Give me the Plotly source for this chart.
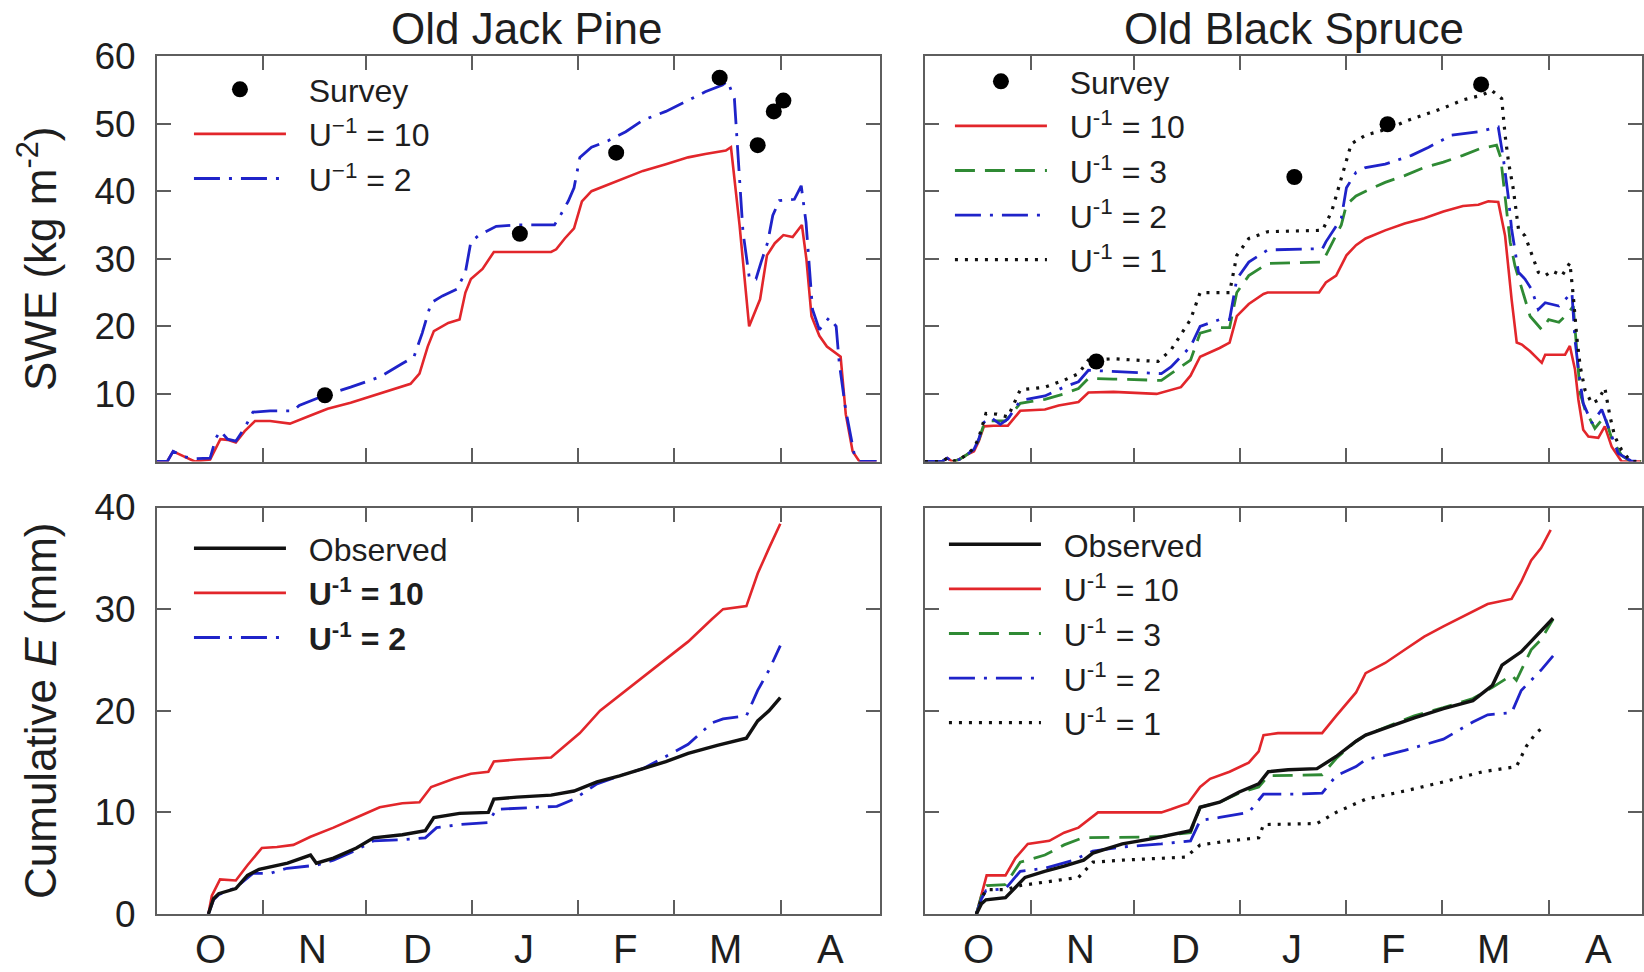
import plotly.graph_objects as go

# ---------------- data (x = days since 1 October) ----------------
# Old Jack Pine, SWE
ojp_swe_u10_day = [0, 3, 4.7, 8, 11, 15.5, 17, 18.5, 20.6, 23, 25.6, 28.6, 33, 38.8, 44.8, 49.8, 56.5, 63.2, 70, 74,
                   76.6, 79, 80.8, 85, 88.3, 90, 91.6, 95, 98.3, 105, 115, 116.5, 119, 121.7, 124, 126.8, 131.8, 136.8,
                   141.8, 148.5, 155, 160, 166, 167.5, 170, 172.8, 174.4, 176, 178, 180.3, 182.8, 185.5, 188.2, 189.5,
                   191, 193.3, 195.5, 198, 199.5, 201, 203, 205, 210]
ojp_swe_u10 = [0, 0, 1.5, 0.7, 0, 0.3, 1.8, 3.3, 3.2, 2.8, 4.5, 6.0, 6.0, 5.6, 6.8, 7.8, 8.7, 9.8, 10.9, 11.5,
               13, 17, 19.3, 20.5, 21, 25, 27, 28.5, 31, 31, 31, 31.4, 33, 34.5, 38.5, 40, 41, 42,
               43, 44, 45, 45.5, 46, 46.5, 35, 20, 22, 24, 30.5, 32.3, 33.5, 33.2, 35, 30,
               21.5, 18.6, 17, 16, 15.5, 7, 1.5, 0, 0]
ojp_swe_u2_day = [0, 3, 4.7, 8, 11, 15.5, 17.2, 18.5, 20.6, 23, 25.6, 28, 33, 39.8, 41.5, 49, 56.5, 65, 71.6, 75,
                  77.4, 80, 83.3, 87.5, 90, 91.6, 94, 99, 105, 116, 117.6, 120, 121.7, 123.4, 126.8, 131.8, 136.8,
                  141.8, 148.5, 155, 160, 165, 166.5, 168.5, 169.5, 171, 172.9, 174.8, 176.3, 178.2, 179.7, 181.6,
                  186, 188, 189.4, 191.3, 193.3, 196.2, 198.2, 199.1, 201, 203.5, 205, 210]
ojp_swe_u2 = [0, 0, 1.5, 0.7, 0.4, 0.5, 3.5, 4.5, 3.3, 3.0, 5, 7.3, 7.5, 7.5, 8.3, 9.8, 11, 12.5, 14.5, 15.5,
              19, 23.5, 24.5, 25.5, 28, 32.5, 33.5, 34.8, 35, 35, 36.3, 38.5, 40.5, 45, 46.5, 47.5, 48.8,
              50.5, 51.8, 53.5, 54.7, 55.7, 56.3, 53.7, 46.3, 34, 27, 27, 29.5, 32.4, 36.4, 38.6,
              38.8, 40.8, 35.4, 22.5, 19.5, 21.3, 20, 14.6, 7.6, 1.0, 0, 0]
ojp_survey_day = [49, 105.9, 134, 164.2, 175.3, 180, 182.8]
ojp_survey = [9.8, 33.7, 45.7, 56.8, 46.8, 51.8, 53.4]

# Old Black Spruce, SWE
obs_swe_u10_day = [0, 5, 6.5, 8, 10, 12.2, 14.3, 15.7, 17.2, 20, 24.2, 27.8, 35, 39, 44.8, 47.7, 55, 67.6, 74.7,
                   77.5, 80.3, 86, 88.9, 91, 94.5, 98.8, 100, 115, 117, 120, 123, 125.8, 128.6, 134.3, 140, 145.7,
                   151.3, 157, 161.5, 164.4, 167.3, 169.3, 171.2, 172.7, 174.2, 176.6, 180, 181, 186.8, 188.2,
                   189.7, 190.7, 192.1, 193.6, 196.5, 198.4, 200.4, 203.3, 209]
obs_swe_u10 = [0, 0, 0.5, 0, 0.3, 1, 1.5, 3, 5.2, 5.3, 5.3, 7.5, 7.7, 8.3, 8.8, 10.2, 10.3, 10.0, 11.0,
               12.7, 15.5, 16.8, 17.6, 21.5, 23.3, 24.8, 25, 25, 26.5, 27.5, 30.5, 32, 33, 34.2, 35.2, 36,
               37, 37.8, 38, 38.5, 38.4, 33.4, 24, 17.6, 17.3, 16.3, 14.6, 15.8, 15.8, 17.1,
               13.6, 9.1, 4.7, 3.7, 3.5, 5.2, 2.2, 0, 0]
obs_swe_u3_day = [0, 5, 6.5, 8, 10, 12.2, 14.3, 15.7, 17.2, 19.3, 23.5, 27.8, 35, 40.5, 44.8, 47.7, 55, 69, 71.8,
                  77.5, 80.3, 86, 88.9, 91, 94.5, 100, 116, 117, 121.5, 123, 125.8, 128.6, 134.3, 140, 145.7,
                  151.3, 157, 162, 166.8, 168, 169.3, 170.8, 172.2, 174.2, 176.6, 180, 182, 185, 187.8, 189.2,
                  190.2, 191.2, 192.6, 195.5, 198.4, 200.4, 203.3, 206, 209]
obs_swe_u3 = [0, 0, 0.5, 0, 0.3, 1, 1.8, 3.2, 5.5, 6.0, 6.0, 8.6, 9.2, 10, 10.8, 12.3, 12.2, 12, 13,
              15, 19, 19.8, 19.8, 25, 27.5, 29.3, 29.5, 30.5, 35, 38, 39.3, 40, 41.3, 42.3, 43.5,
              44.3, 45.3, 46.3, 46.8, 45, 38.9, 32.4, 28.9, 25.5, 21.5, 19.5, 21, 20.6, 22, 23,
              16.6, 10.1, 7.7, 4.9, 6.7, 3.4, 0.9, 0, 0]
obs_swe_u2_day = [0, 5, 6.5, 8, 10, 12.2, 14.3, 15.7, 17.2, 19.3, 22, 24.2, 27.8, 35, 40.5, 44.8, 47.7, 55, 69,
                  71.8, 77.5, 80.3, 86, 88.9, 91, 94.5, 100, 116, 117, 121.5, 123, 125.8, 128.6, 134.3, 142, 147,
                  153.7, 161.5, 167.3, 168.8, 170.3, 171.2, 173.2, 175.1, 177, 179, 181, 185, 187.8, 188.8,
                  189.7, 190.7, 192.1, 194.6, 197.5, 199.4, 202.3, 206, 209]
obs_swe_u2 = [0, 0, 0.5, 0, 0.3, 1, 1.8, 3.3, 5.8, 6.5, 5.5, 6.3, 9.0, 9.7, 11, 11.8, 13.5, 13.3, 13.0,
              14, 17, 20, 21, 21, 27, 29.5, 31.3, 31.5, 32.5, 36, 40.5, 42.8, 43.5, 44, 45.3, 46.5,
              48.3, 48.8, 49.5, 44.8, 38.9, 34.4, 28, 27, 25.5, 22.5, 23.5, 23, 24.5, 25,
              18, 13.6, 8.6, 5.7, 7.7, 5.2, 1.2, 0.1, 0]
obs_swe_u1_day = [0, 5, 6.5, 8, 10, 12.2, 14.3, 15.7, 17.8, 21, 24.2, 27.8, 35, 40.5, 44.8, 47.7, 55, 68, 71.8,
                  77.5, 80.3, 88.9, 91, 94.5, 100, 116, 118.7, 121.5, 124.4, 128.6, 135.7, 140, 145.7, 151.3,
                  157, 162.5, 165.4, 168.3, 169.3, 170.3, 171.7, 173.2, 175.1, 177, 179, 181, 183, 185.9,
                  188.2, 189.2, 190.2, 191.2, 192.6, 194.6, 196.5, 198.4, 199.9, 201.3, 203.3, 206, 209]
obs_swe_u1 = [0, 0, 0.5, 0, 0.3, 1, 2, 3.5, 7.1, 7.0, 6.6, 10.6, 11, 12, 13, 15, 15.2, 14.8, 16.5,
              21, 25, 25, 30.5, 33, 34, 34.2, 37, 42, 47, 48.3, 49.3, 50.3, 51.3, 52.3,
              53.5, 54.2, 54.9, 53.7, 48.3, 44.3, 40.3, 34.4, 33.4, 30.9, 28, 27.5, 28.2, 27.5,
              29.4, 24.5, 18.5, 14.1, 10.6, 8.6, 9.1, 10.9, 6.7, 3.7, 1.7, 0, 0]
obs_survey_day = [50, 107.8, 135, 162.3]
obs_survey = [14.8, 42.1, 49.9, 55.8]

# Old Jack Pine, cumulative E
ojp_e_obs_day = [15, 16.5, 18, 23, 26.4, 29.8, 38.1, 44.8, 46.5, 51.5, 58.2, 63.2, 71.6, 78.3, 80.8, 88.3, 96.7,
                 98.3, 105, 115, 121.7, 128.4, 135, 141.8, 148.5, 155, 163.5, 172, 175.3, 178.6, 181.9]
ojp_e_obs = [0, 1.5, 2.0, 2.5, 3.8, 4.4, 5.0, 5.8, 5.0, 5.5, 6.5, 7.5, 7.8, 8.2, 9.5, 9.9, 10.0,
             11.3, 11.5, 11.7, 12.1, 13, 13.6, 14.3, 15, 15.8, 16.6, 17.3, 19, 20, 21.3]
ojp_e_u10_day = [15, 16, 18.4, 23, 26.4, 30.6, 35, 39.8, 44.8, 51.5, 58.2, 65, 71.6, 76.6, 80, 86.6, 91.6, 96.7,
                 98.3, 105, 115, 119, 123.4, 129.3, 135, 141.8, 148.5, 155, 161.9, 165.2, 172, 175.3, 178.6, 181.9]
ojp_e_u10 = [0, 1.8, 3.4, 3.3, 4.8, 6.5, 6.6, 6.8, 7.6, 8.5, 9.5, 10.5, 10.9, 11, 12.5, 13.3, 13.8, 14,
             15, 15.2, 15.4, 16.5, 17.8, 20, 21.5, 23.3, 25, 26.8, 29, 30, 30.3, 33.5, 36, 38.4]
ojp_e_u2_day = [15, 16.5, 18, 23, 28, 33, 38, 46.5, 51.5, 58.2, 63.2, 71.6, 78.3, 81.6, 88.3, 96.7, 99, 105,
                116.7, 121.7, 128.4, 135, 141.8, 148.5, 155, 161.9, 165.2, 172, 175.3, 178.6, 181.9]
ojp_e_u2 = [0, 1.4, 1.9, 2.6, 4.0, 4.0, 4.5, 4.8, 5.3, 6.3, 7.2, 7.3, 7.5, 8.5, 8.8, 9.0, 10.3, 10.4,
            10.6, 11.3, 12.8, 13.6, 14.3, 15.5, 16.7, 18.8, 19.2, 19.5, 22, 24, 26.4]

# Old Black Spruce, cumulative E
obs_e_obs_day = [15, 16.5, 17.8, 23.5, 29.2, 34.9, 40.6, 46.3, 49, 57.6, 66, 77.5, 80.3, 86, 91.7, 97.4, 100.2,
                 106, 114.4, 120, 125.8, 128.6, 134.3, 142.8, 151.3, 159.9, 165.6, 168.4, 174, 178.3, 183.3]
obs_e_obs = [0, 1.0, 1.4, 1.6, 3.6, 4.2, 4.7, 5.3, 6.0, 6.9, 7.4, 8.2, 10.5, 11, 12, 12.8, 14,
             14.2, 14.3, 15.5, 17, 17.6, 18.3, 19.3, 20.2, 21, 22.5, 24.5, 25.8, 27.3, 29.1]
obs_e_u10_day = [15, 16.5, 18, 23.5, 26.4, 30, 36.3, 40.6, 44.8, 50.5, 69, 71.8, 76.8, 80.3, 83.2, 88.9, 94.5,
                 97.4, 98.8, 103, 115.9, 120, 125.8, 128.6, 134.3, 140, 145.7, 151.3, 157, 164.2, 171.2, 174,
                 176.9, 179.8, 182.6]
obs_e_u10 = [0, 2, 3.8, 3.8, 5.5, 6.9, 7.2, 8.0, 8.5, 10, 10, 10.3, 10.9, 12.5, 13.3, 14, 14.9,
             16, 17.6, 17.8, 17.8, 19.5, 21.8, 23.7, 24.7, 26, 27.3, 28.3, 29.3, 30.5, 31, 32.7,
             34.8, 36, 37.8]
obs_e_u3_day = [15, 16.5, 18, 23.5, 27.8, 35, 40.6, 46, 69, 71.8, 77.5, 80.3, 86, 91.7, 97.4, 100.2, 115.9, 120,
                125.8, 128.6, 142.8, 151.3, 159.9, 165.6, 171.2, 172.6, 176.9, 179.8, 183.3]
obs_e_u3 = [0, 1.8, 2.8, 2.9, 5.1, 5.8, 6.8, 7.5, 7.6, 7.8, 8.0, 10.5, 11, 11.9, 12.5, 13.6, 13.7, 15.3,
            17, 17.6, 19.5, 20.3, 21.2, 22.3, 23.5, 23, 26, 27, 29]
obs_e_u2_day = [15, 16.5, 17.8, 23.5, 27.8, 35, 43.4, 49, 57.6, 69, 77.5, 80.3, 86, 94.5, 98.8, 108.7, 115.9, 120,
                125.8, 128.6, 134.3, 140, 151.3, 159.9, 164.2, 171.2, 174, 176.9, 179.8, 183.3]
obs_e_u2 = [0, 1.5, 2.3, 2.5, 4.2, 4.5, 5.3, 6.2, 6.6, 6.9, 7.2, 9.2, 9.5, 10, 11.8, 11.8, 11.9, 13.6,
            14.5, 15.2, 15.6, 16.1, 17.2, 18.9, 19.6, 19.8, 22, 23, 24, 25.4]
obs_e_u1_day = [15, 16.5, 17.8, 23.5, 27.8, 44.8, 49, 57.6, 76.1, 80.3, 88.9, 97.4, 98.8, 114.4, 120, 128.6, 140,
                151.3, 162.7, 172.6, 175.5, 178.3, 181.2]
obs_e_u1 = [0, 1.5, 2.4, 2.4, 2.8, 3.6, 5.1, 5.3, 5.6, 6.8, 7.2, 7.5, 8.8, 8.9, 10, 11.3, 12.1,
            13, 14, 14.5, 16.5, 17.8, 18.6]

# axis ticks
month_start_days = [31, 61, 92, 123, 151, 182]
month_mid_days = [15.5, 45.5, 76, 107, 136.5, 166, 196.5]
month_labels = ["O", "N", "D", "J", "F", "M", "A"]
swe_ticks = [10, 20, 30, 40, 50, 60]
e_ticks = [0, 10, 20, 30, 40]

# ---------------- styling ----------------
FONT = "Liberation Sans, Arial, sans-serif"
TXT = "#1e1e1e"
RED = "#e2262b"
BLUE = "#1f23c9"
GREEN = "#2f8a34"
BLK = "#111111"
FRAME = "#5e5e5e"

S_RED = dict(color=RED, width=2.6)
S_BLUE = dict(color=BLUE, width=2.8, dash="26px,9px,3px,9px")
S_GREEN = dict(color=GREEN, width=2.8, dash="20px,10px")
S_DOT = dict(color=BLK, width=3.2, dash="3px,7px")
S_OBS = dict(color=BLK, width=3.4)

fig = go.Figure()


def add_line(x, y, name, style, ax, legend, rank):
    fig.add_trace(go.Scatter(x=x, y=y, mode="lines", name=name, line=style,
                             xaxis="x" + ax, yaxis="y" + ax, legend=legend,
                             legendrank=rank, legendgroup=name + legend, hoverinfo="skip"))


def add_survey(x, y, ax, legend):
    fig.add_trace(go.Scatter(x=x, y=y, mode="markers", name="\u00a0\u00a0Survey",
                             marker=dict(color="black", size=16),
                             xaxis="x" + ax, yaxis="y" + ax, legend=legend,
                             legendrank=1, legendgroup="survey" + legend, hoverinfo="skip"))


SP = "\u00a0\u00a0"
# top-left
add_line(ojp_swe_u10_day, ojp_swe_u10, SP + "U<sup>\u22121</sup> = 10", S_RED, "", "legend", 2)
add_line(ojp_swe_u2_day, ojp_swe_u2, SP + "U<sup>\u22121</sup> = 2", S_BLUE, "", "legend", 3)
add_survey(ojp_survey_day, ojp_survey, "", "legend")
# top-right
add_line(obs_swe_u10_day, obs_swe_u10, SP + "U<sup>-1</sup> = 10", S_RED, "2", "legend2", 2)
add_line(obs_swe_u3_day, obs_swe_u3, SP + "U<sup>-1</sup> = 3", S_GREEN, "2", "legend2", 3)
add_line(obs_swe_u2_day, obs_swe_u2, SP + "U<sup>-1</sup> = 2", S_BLUE, "2", "legend2", 4)
add_line(obs_swe_u1_day, obs_swe_u1, SP + "U<sup>-1</sup> = 1", S_DOT, "2", "legend2", 5)
add_survey(obs_survey_day, obs_survey, "2", "legend2")
# bottom-left
add_line(ojp_e_u10_day, ojp_e_u10, SP + "<b>U<sup>-1</sup> = 10</b>", S_RED, "3", "legend3", 2)
add_line(ojp_e_u2_day, ojp_e_u2, SP + "<b>U<sup>-1</sup> = 2</b>", S_BLUE, "3", "legend3", 3)
add_line(ojp_e_obs_day, ojp_e_obs, SP + "Observed", S_OBS, "3", "legend3", 1)
# bottom-right
add_line(obs_e_u10_day, obs_e_u10, SP + "U<sup>-1</sup> = 10", S_RED, "4", "legend4", 2)
add_line(obs_e_u3_day, obs_e_u3, SP + "U<sup>-1</sup> = 3", S_GREEN, "4", "legend4", 3)
add_line(obs_e_u2_day, obs_e_u2, SP + "U<sup>-1</sup> = 2", S_BLUE, "4", "legend4", 4)
add_line(obs_e_u1_day, obs_e_u1, SP + "U<sup>-1</sup> = 1", S_DOT, "4", "legend4", 5)
add_line(obs_e_obs_day, obs_e_obs, SP + "Observed", S_OBS, "4", "legend4", 1)

# ---------------- layout ----------------
W, H = 1644, 972
ML, MR, MT, MB = 157, 0, 56, 58
PW, PH = W - ML - MR, H - MT - MB


def px_x(p):
    return (p - ML) / PW


def px_y(p):
    return (H - MB - p) / PH


xl_dom = [0, px_x(881)]
xr_dom = [px_x(926), 1]
yt_dom = [px_y(461.5), 1]
yb_dom = [0, px_y(507.5)]
DAY_PX = (881 - 157) / 211.0
right_range = [0, (W - 926) / DAY_PX]

common_x = dict(showgrid=False, zeroline=False, showline=True, linecolor=FRAME, linewidth=2,
                mirror="ticks", ticks="inside", ticklen=14, tickwidth=2, tickcolor=FRAME,
                tickvals=month_start_days, showticklabels=False)
common_y = dict(showgrid=False, zeroline=False, showline=True, linecolor=FRAME, linewidth=2,
                mirror="ticks", ticks="inside", ticklen=14, tickwidth=2, tickcolor=FRAME,
                tickfont=dict(family=FONT, size=37, color=TXT), ticklabelstandoff=12)

layout = dict(
    width=W, height=H, margin=dict(l=ML, r=MR, t=MT, b=MB),
    paper_bgcolor="white", plot_bgcolor="white",
    font=dict(family=FONT, color=TXT),
    xaxis=dict(common_x, domain=xl_dom, range=[0, 211], anchor="y"),
    xaxis2=dict(common_x, domain=xr_dom, range=right_range, anchor="y2"),
    xaxis3=dict(common_x, domain=xl_dom, range=[0, 211], anchor="y3"),
    xaxis4=dict(common_x, domain=xr_dom, range=right_range, anchor="y4"),
    yaxis=dict(common_y, domain=yt_dom, range=[0, 60], anchor="x", tickvals=swe_ticks,
               title=dict(text="SWE (kg m<sup>-2</sup>)", font=dict(family=FONT, size=44, color=TXT), standoff=24)),
    yaxis2=dict(common_y, domain=yt_dom, range=[0, 60], anchor="x2", tickvals=swe_ticks, showticklabels=False),
    yaxis3=dict(common_y, domain=yb_dom, range=[0, 40], anchor="x3", tickvals=e_ticks,
                title=dict(text="Cumulative <i>E</i> (mm)", font=dict(family=FONT, size=44, color=TXT), standoff=24)),
    yaxis4=dict(common_y, domain=yb_dom, range=[0, 40], anchor="x4", tickvals=e_ticks, showticklabels=False),
)

leg_common = dict(bgcolor="rgba(0,0,0,0)", borderwidth=0, itemwidth=92, tracegroupgap=0,
                  font=dict(family=FONT, size=32, color=TXT), xanchor="left", yanchor="top",
                  itemclick=False, itemdoubleclick=False)
layout["legend"] = dict(leg_common, x=px_x(189), y=px_y(62))
layout["legend2"] = dict(leg_common, x=px_x(951), y=px_y(54))
layout["legend3"] = dict(leg_common, x=px_x(189), y=px_y(521))
layout["legend4"] = dict(leg_common, x=px_x(945), y=px_y(517))

annotations = [
    dict(text="Old Jack Pine", xref="x", yref="paper", x=107.8, y=1, yshift=28,
         xanchor="center", yanchor="middle", showarrow=False, font=dict(family=FONT, size=44, color=TXT)),
    dict(text="Old Black Spruce", xref="x2", yref="paper", x=107.6, y=1, yshift=28,
         xanchor="center", yanchor="middle", showarrow=False, font=dict(family=FONT, size=44, color=TXT)),
]
for xa in ["x3", "x4"]:
    for d, lab in zip(month_mid_days, month_labels):
        annotations.append(dict(text=lab, xref=xa, yref="paper", x=d, y=0, yshift=-35,
                                xanchor="center", yanchor="middle", showarrow=False, borderpad=0,
                                font=dict(family=FONT, size=40, color=TXT)))
layout["annotations"] = annotations
fig.update_layout(layout)
fig.write_html("out.html")
